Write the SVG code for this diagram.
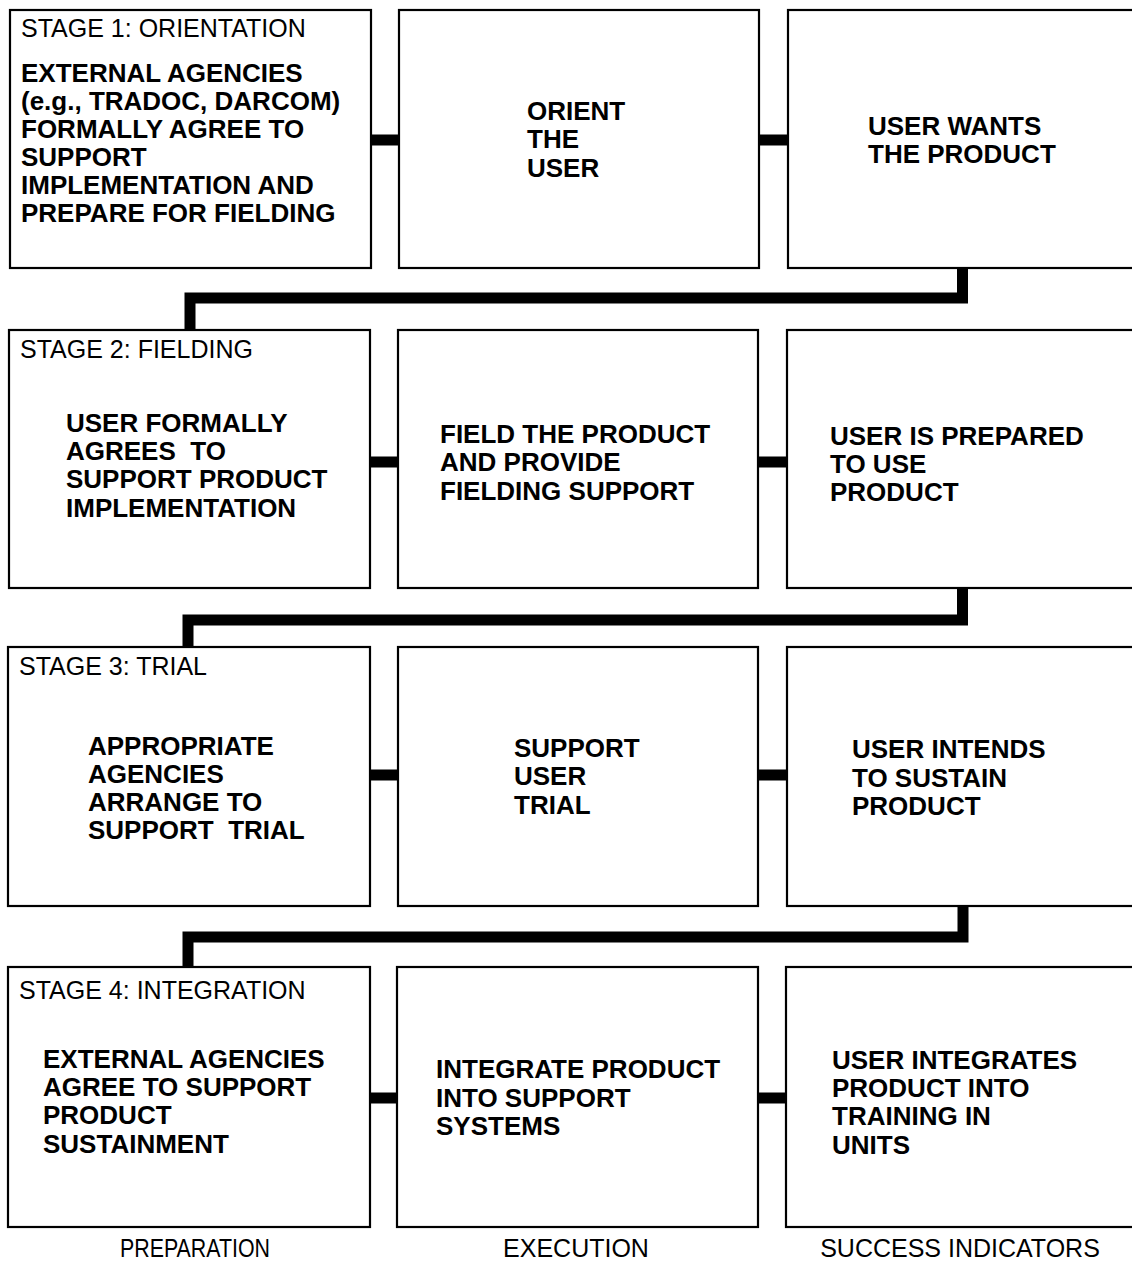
<svg xmlns="http://www.w3.org/2000/svg" width="1132" height="1263" viewBox="0 0 1132 1263">
  <style>
    .box { fill: #ffffff; stroke: #000000; stroke-width: 2.2; }
    .link { fill: none; stroke: #000000; stroke-width: 11; stroke-linejoin: miter; stroke-linecap: butt; }
    .stage { font-family: "Liberation Sans", Arial, sans-serif; font-size: 25px; fill: #000000; }
    .body { font-family: "Liberation Sans", Arial, sans-serif; font-size: 26px; font-weight: bold; fill: #000000; white-space: pre; }
    .col { font-family: "Liberation Sans", Arial, sans-serif; font-size: 25px; fill: #000000; text-anchor: middle; }
  </style>
  <rect width="1132" height="1263" fill="#ffffff"/>

  <!-- connectors -->
  <g id="connectors">
    <!-- links within each row -->
    <path class="link" d="M371 140 H399 M759 140 H788"/>
    <path class="link" d="M370 462 H398 M758 462 H787"/>
    <path class="link" d="M370 775 H398 M758 775 H787"/>
    <path class="link" d="M370 1098 H397 M758 1098 H786"/>
    <!-- stage to stage -->
    <path class="link" d="M962.5 268 V298 H190 V330"/>
    <path class="link" d="M962.5 588 V620 H188 V647"/>
    <path class="link" d="M963 906 V937 H188 V967"/>
  </g>

  <!-- stage 1 -->
  <g id="stage1-preparation">
    <rect class="box" x="10" y="10" width="361" height="258"/>
    <text class="stage" x="21" y="37">STAGE 1: ORIENTATION</text>
    <text class="body" x="21" y="82">EXTERNAL AGENCIES</text>
    <text class="body" x="21" y="110">(e.g., TRADOC, DARCOM)</text>
    <text class="body" x="21" y="138">FORMALLY AGREE TO</text>
    <text class="body" x="21" y="166">SUPPORT</text>
    <text class="body" x="21" y="194">IMPLEMENTATION AND</text>
    <text class="body" x="21" y="222">PREPARE FOR FIELDING</text>
  </g>
  <g id="stage1-execution">
    <rect class="box" x="399" y="10" width="360" height="258"/>
    <text class="body" x="527" y="120">ORIENT</text>
    <text class="body" x="527" y="148">THE</text>
    <text class="body" x="527" y="177">USER</text>
  </g>
  <g id="stage1-indicator">
    <rect class="box" x="788" y="10" width="360" height="258"/>
    <text class="body" x="868" y="135">USER WANTS</text>
    <text class="body" x="868" y="163">THE PRODUCT</text>
  </g>

  <!-- stage 2 -->
  <g id="stage2-preparation">
    <rect class="box" x="9" y="330" width="361" height="258"/>
    <text class="stage" x="20" y="358">STAGE 2: FIELDING</text>
    <text class="body" x="66" y="432">USER FORMALLY</text>
    <text class="body" x="66" y="460">AGREES  TO</text>
    <text class="body" x="66" y="488">SUPPORT PRODUCT</text>
    <text class="body" x="66" y="517">IMPLEMENTATION</text>
  </g>
  <g id="stage2-execution">
    <rect class="box" x="398" y="330" width="360" height="258"/>
    <text class="body" x="440" y="443">FIELD THE PRODUCT</text>
    <text class="body" x="440" y="471">AND PROVIDE</text>
    <text class="body" x="440" y="500">FIELDING SUPPORT</text>
  </g>
  <g id="stage2-indicator">
    <rect class="box" x="787" y="330" width="360" height="258"/>
    <text class="body" x="830" y="445">USER IS PREPARED</text>
    <text class="body" x="830" y="473">TO USE</text>
    <text class="body" x="830" y="501">PRODUCT</text>
  </g>

  <!-- stage 3 -->
  <g id="stage3-preparation">
    <rect class="box" x="8" y="647" width="362" height="259"/>
    <text class="stage" x="19" y="675">STAGE 3: TRIAL</text>
    <text class="body" x="88" y="755">APPROPRIATE</text>
    <text class="body" x="88" y="783">AGENCIES</text>
    <text class="body" x="88" y="811">ARRANGE TO</text>
    <text class="body" x="88" y="839">SUPPORT  TRIAL</text>
  </g>
  <g id="stage3-execution">
    <rect class="box" x="398" y="647" width="360" height="259"/>
    <text class="body" x="514" y="757">SUPPORT</text>
    <text class="body" x="514" y="785">USER</text>
    <text class="body" x="514" y="814">TRIAL</text>
  </g>
  <g id="stage3-indicator">
    <rect class="box" x="787" y="647" width="360" height="259"/>
    <text class="body" x="852" y="758">USER INTENDS</text>
    <text class="body" x="852" y="787">TO SUSTAIN</text>
    <text class="body" x="852" y="815">PRODUCT</text>
  </g>

  <!-- stage 4 -->
  <g id="stage4-preparation">
    <rect class="box" x="8" y="967" width="362" height="260"/>
    <text class="stage" x="19" y="999">STAGE 4: INTEGRATION</text>
    <text class="body" x="43" y="1068">EXTERNAL AGENCIES</text>
    <text class="body" x="43" y="1096">AGREE TO SUPPORT</text>
    <text class="body" x="43" y="1124">PRODUCT</text>
    <text class="body" x="43" y="1153">SUSTAINMENT</text>
  </g>
  <g id="stage4-execution">
    <rect class="box" x="397" y="967" width="361" height="260"/>
    <text class="body" x="436" y="1078">INTEGRATE PRODUCT</text>
    <text class="body" x="436" y="1107">INTO SUPPORT</text>
    <text class="body" x="436" y="1135">SYSTEMS</text>
  </g>
  <g id="stage4-indicator">
    <rect class="box" x="786" y="967" width="360" height="260"/>
    <text class="body" x="832" y="1069">USER INTEGRATES</text>
    <text class="body" x="832" y="1097">PRODUCT INTO</text>
    <text class="body" x="832" y="1125">TRAINING IN</text>
    <text class="body" x="832" y="1154">UNITS</text>
  </g>

  <!-- column headings -->
  <g id="column-labels">
    <text class="col" x="195" y="1257" textLength="150" lengthAdjust="spacingAndGlyphs">PREPARATION</text>
    <text class="col" x="576" y="1257">EXECUTION</text>
    <text class="col" x="960" y="1257">SUCCESS INDICATORS</text>
  </g>
</svg>
